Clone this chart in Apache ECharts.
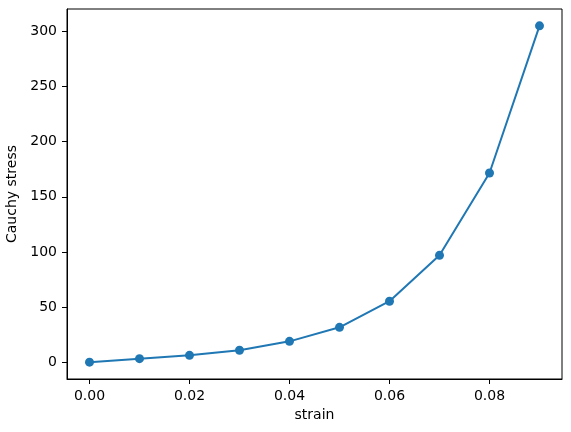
<!DOCTYPE html>
<html>
<head>
<meta charset="utf-8">
<script src="https://cdn.jsdelivr.net/npm/echarts@6/dist/echarts.min.js"></script>
<style>
html, body { margin: 0; padding: 0; background: #fff; }
#chart { width: 571px; height: 432px; }
</style>
</head>
<body>
<div id="chart"></div>
<script>
// strain vs Cauchy stress
var strain = [0.00, 0.01, 0.02, 0.03, 0.04, 0.05, 0.06, 0.07, 0.08, 0.09];
var stress = [0, 3.2, 6.2, 10.8, 18.9, 31.6, 55.3, 96.9, 171.5, 305];
var xTicks = [0, 0.02, 0.04, 0.06, 0.08];
var yTicks = [0, 50, 100, 150, 200, 250, 300];

var points = [];
for (var i = 0; i < strain.length; i++) {
    points.push([strain[i], stress[i]]);
}

var chart = echarts.init(document.getElementById('chart'), null, { renderer: 'canvas' });
var font = 'DejaVu Sans';

chart.setOption({
    animation: false,
    backgroundColor: '#fff',
    grid: {
        left: 67, right: 9, top: 9, bottom: 53,
        containLabel: false,
        outerBoundsMode: 'none',
        show: true, borderColor: '#000', borderWidth: 1, backgroundColor: 'transparent'
    },
    xAxis: {
        type: 'value',
        min: -0.0045,
        max: 0.0945,
        name: 'strain',
        nameLocation: 'middle',
        nameGap: 29,
        nameTextStyle: { fontFamily: font, fontSize: 14, color: '#000' },
        axisLine: { show: true, onZero: false, lineStyle: { color: '#000', width: 1 } },
        axisTick: { show: true, length: 5, customValues: xTicks, lineStyle: { color: '#000' } },
        axisLabel: {
            customValues: xTicks, margin: 10, fontFamily: font, fontSize: 14, color: '#000',
            formatter: function (v) { return v.toFixed(2); }
        },
        splitLine: { show: false }
    },
    yAxis: {
        type: 'value',
        min: -15.25,
        max: 320.25,
        name: 'Cauchy stress',
        nameLocation: 'middle',
        nameGap: 41,
        nameTextStyle: { fontFamily: font, fontSize: 14, color: '#000' },
        axisLine: { show: true, onZero: false, lineStyle: { color: '#000', width: 1 } },
        axisTick: { show: true, length: 5, customValues: yTicks, lineStyle: { color: '#000' } },
        axisLabel: {
            customValues: yTicks, margin: 10, fontFamily: font, fontSize: 14, color: '#000',
            formatter: function (v) { return String(v); }
        },
        splitLine: { show: false }
    },
    series: [{
        type: 'line',
        data: points,
        symbol: 'circle',
        symbolSize: 9,
        showAllSymbol: true,
        itemStyle: { color: '#1f77b4' },
        lineStyle: { color: '#1f77b4', width: 2 }
    }]
});
</script>
</body>
</html>
